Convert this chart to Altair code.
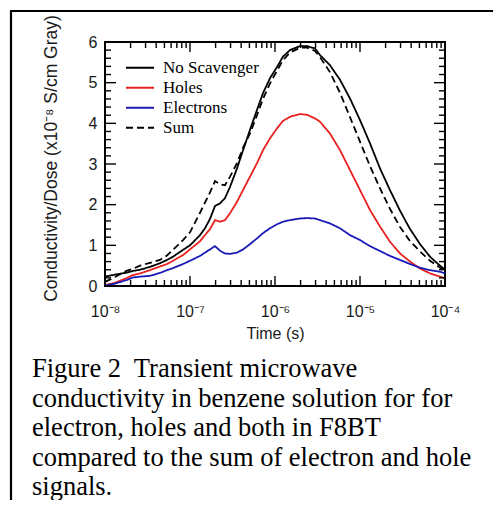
import altair as alt
import pandas as pd

# ---------------- data ----------------
time_s = [1.0e-8, 1.31e-8, 1.82e-8, 2.13e-8, 2.58e-8, 3.38e-8, 4.43e-8, 5.36e-8,
          6.31e-8, 8.28e-8, 1.0e-7, 1.31e-7, 1.50e-7, 1.72e-7, 1.97e-7, 2.25e-7,
          2.58e-7, 2.96e-7, 3.57e-7, 4.21e-7, 5.08e-7, 6.14e-7, 7.22e-7, 8.73e-7,
          1.06e-6, 1.24e-6, 1.50e-6, 1.97e-6, 2.38e-6, 2.96e-6, 3.38e-6, 4.43e-6,
          5.82e-6, 7.63e-6, 1.0e-5, 1.31e-5, 1.72e-5, 2.25e-5, 2.96e-5, 3.88e-5,
          5.08e-5, 6.66e-5, 8.73e-5, 1.0e-4]

no_scavenger = [0.23, 0.28, 0.33, 0.37, 0.40, 0.47, 0.56, 0.64,
                0.72, 0.89, 1.00, 1.25, 1.42, 1.65, 1.97, 2.03,
                2.16, 2.44, 2.89, 3.34, 3.84, 4.33, 4.74, 5.11,
                5.39, 5.64, 5.80, 5.90, 5.90, 5.84, 5.68, 5.43,
                5.07, 4.61, 4.08, 3.51, 2.89, 2.36, 1.85, 1.40,
                1.03, 0.72, 0.50, 0.40]

holes = [0.02, 0.08, 0.20, 0.27, 0.31, 0.39, 0.48, 0.54,
         0.62, 0.76, 0.90, 1.10, 1.25, 1.40, 1.62, 1.58,
         1.62, 1.79, 2.07, 2.36, 2.69, 3.02, 3.34, 3.63,
         3.88, 4.06, 4.16, 4.23, 4.21, 4.12, 4.04, 3.75,
         3.34, 2.85, 2.36, 1.87, 1.46, 1.09, 0.80, 0.60,
         0.43, 0.31, 0.23, 0.19]

electrons = [0.01, 0.06, 0.15, 0.21, 0.23, 0.25, 0.32, 0.39,
             0.44, 0.54, 0.62, 0.74, 0.82, 0.90, 0.98, 0.87,
             0.80, 0.79, 0.82, 0.90, 1.03, 1.17, 1.30, 1.42,
             1.52, 1.58, 1.62, 1.66, 1.67, 1.66, 1.62, 1.54,
             1.42, 1.25, 1.13, 0.98, 0.86, 0.74, 0.64, 0.54,
             0.45, 0.39, 0.35, 0.31]

sum_signal = [0.10, 0.22, 0.38, 0.42, 0.50, 0.57, 0.64, 0.75,
              0.89, 1.13, 1.32, 1.80, 2.05, 2.30, 2.58, 2.50,
              2.48, 2.69, 3.02, 3.40, 3.75, 4.20, 4.60, 4.98,
              5.30, 5.55, 5.74, 5.86, 5.86, 5.78, 5.63, 5.26,
              4.75, 4.15, 3.55, 2.95, 2.40, 1.90, 1.45, 1.10,
              0.85, 0.62, 0.45, 0.38]

series_names = ["No Scavenger", "Holes", "Electrons", "Sum"]
series_values = [no_scavenger, holes, electrons, sum_signal]
series_colors = ["#000000", "#e8201e", "#1a1ab8", "#000000"]
series_dashes = [[1, 0], [1, 0], [1, 0], [7, 4]]

decades = [1e-8, 1e-7, 1e-6, 1e-5, 1e-4]
decade_labels = ["10\u207b\u2078", "10\u207b\u2077", "10\u207b\u2076", "10\u207b\u2075", "10\u207b\u2074"]
minor_multipliers = [2, 3, 4, 5, 6, 7, 8, 9]
y_major = [0, 1, 2, 3, 4, 5, 6]
y_minor_fracs = [0.2, 0.4, 0.6, 0.8]

x_title = "Time (s)"
y_title = "Conductivity/Dose (x10\u207b\u2078 S/cm Gray)"
caption_lines = [
    "Figure 2\u00a0 Transient microwave",
    "conductivity in benzene solution for for",
    "electron, holes and both in F8BT",
    "compared to the sum of electron and hole",
    "signals.",
]

# ---------------- tables ----------------
rows = []
for name, vals in zip(series_names, series_values):
    for t, v in zip(time_s, vals):
        rows.append({"time": t, "value": v, "series": name})
df = pd.DataFrame(rows)
one = pd.DataFrame({"time": [1e-6], "value": [1.0]})

x_minor = [d * m for d in decades[:-1] for m in minor_multipliers]
y_minor = [round(v + f, 2) for v in y_major[:-1] for f in y_minor_fracs]

label_expr = ""
for d, lab in zip(decades[:-1], decade_labels[:-1]):
    label_expr += f"datum.value < {d * 5} ? '{lab}' : "
label_expr += f"'{decade_labels[-1]}'"

W, H = 340, 244
X_MAJOR_LEN, X_MINOR_LEN = 10, 6
Y_MAJOR_LEN, Y_MINOR_LEN = 11, 6

xscale = alt.Scale(type="log", domain=[decades[0], decades[-1]], nice=False)
yscale = alt.Scale(domain=[0, 6], nice=False, zero=False)

SANS = "Liberation Sans"
SERIF = "Liberation Serif"
INK = "#1a1a1a"

x_axis = alt.Axis(orient="bottom", values=decades, labelExpr=label_expr,
                  ticks=False, domain=False, grid=False,
                  labelFont=SANS, labelFontSize=16, labelColor=INK,
                  labelPadding=17, labelFlush=False,
                  title=x_title, titleFont=SANS, titleFontSize=16,
                  titleFontWeight="normal", titleColor=INK, titlePadding=6)
y_axis = alt.Axis(orient="left", values=y_major, ticks=False, domain=False,
                  grid=False, labelFont=SANS, labelFontSize=16, labelColor=INK,
                  labelPadding=8, title=y_title, titleFont=SANS,
                  titleFontSize=17.5, titleFontWeight="normal", titleColor=INK,
                  titlePadding=28, titleY=116)

X = alt.X("time:Q", scale=xscale, axis=x_axis)
Y = alt.Y("value:Q", scale=yscale, axis=y_axis)

legend = alt.Legend(title=None, orient="none", legendX=20, legendY=16,
                    symbolType="stroke", symbolSize=784, symbolStrokeWidth=1.8,
                    labelFont=SERIF, labelFontSize=17, labelColor="black",
                    labelOffset=8, clipHeight=19.5, rowPadding=0, padding=0)

lines = alt.Chart(df).mark_line(strokeWidth=1.8).encode(
    x=X, y=Y,
    color=alt.Color("series:N", scale=alt.Scale(domain=series_names, range=series_colors),
                    legend=legend),
    strokeDash=alt.StrokeDash("series:N",
                              scale=alt.Scale(domain=series_names, range=series_dashes),
                              legend=legend),
)


# inward ticks on all four sides, drawn as rules through the shared scales
def x_ticks(vals, edge, length):
    d = pd.DataFrame({"time": vals})
    return alt.Chart(d).mark_rule(color="black", strokeWidth=1.4).encode(
        x=X, y=alt.value(min(edge, edge + length)), y2=alt.value(max(edge, edge + length)))


def y_ticks(vals, edge, length):
    d = pd.DataFrame({"value": vals})
    return alt.Chart(d).mark_rule(color="black", strokeWidth=1.4).encode(
        y=Y, x=alt.value(min(edge, edge + length)), x2=alt.value(max(edge, edge + length)))


tick_layers = [
    x_ticks(decades, H, -X_MAJOR_LEN),
    x_ticks(x_minor, H, -X_MINOR_LEN),
    x_ticks(decades, 0, X_MAJOR_LEN),
    x_ticks(x_minor, 0, X_MINOR_LEN),
    y_ticks(y_major, 0, Y_MAJOR_LEN),
    y_ticks(y_minor, 0, Y_MINOR_LEN),
    y_ticks(y_major, W, -Y_MAJOR_LEN),
    y_ticks(y_minor, W, -Y_MINOR_LEN),
]

caption = alt.Chart(one).mark_text(
    align="left", baseline="alphabetic", font=SERIF, fontSize=26.5,
    lineHeight=29.5, color="black"
).encode(x=alt.value(-73), y=alt.value(335), text=alt.value(caption_lines))

border = alt.Chart(one).mark_rect(filled=False, stroke="black", strokeWidth=2.2).encode(
    x=alt.value(-94), y=alt.value(-31), x2=alt.value(900), y2=alt.value(900)
)

chart = alt.layer(
    border, caption, lines, *tick_layers
).properties(
    width=W, height=H,
    autosize=alt.AutoSizeParams(type="none"),
    padding={"left": 97, "top": 34, "right": 48, "bottom": 214},
    background="white",
).configure_view(stroke="black", strokeWidth=2)

chart.save("out.html", embed_options={"renderer": "svg", "actions": False})
